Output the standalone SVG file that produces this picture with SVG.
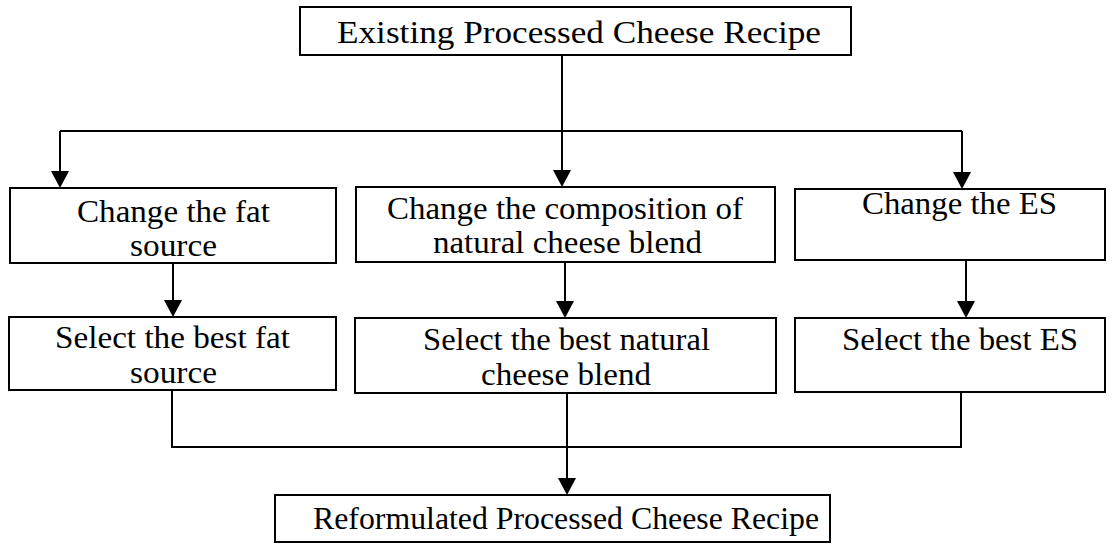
<svg xmlns="http://www.w3.org/2000/svg" width="1113" height="544" viewBox="0 0 1113 544">
<style>
.box{fill:#fff;stroke:#000;stroke-width:2}
.t{font-family:"Liberation Serif","Times New Roman",serif;font-size:31px;fill:#000}
.c{fill:none;stroke:#000;stroke-width:2}
</style>
<rect width="1113" height="544" fill="#fff"/>
<g id="connectors">
<line class="c" x1="562" y1="55" x2="562" y2="131"/>
<line class="c" x1="60" y1="131" x2="962" y2="131"/>
<path class="c" d="M60,131 V171"/>
<path d="M51,171 L69,171 L60,188 Z"/>
<path class="c" d="M562,131 V170"/>
<path d="M553,170 L571,170 L562,187 Z"/>
<path class="c" d="M962,131 V172"/>
<path d="M953,172 L971,172 L962,189 Z"/>
<path class="c" d="M173,263 V300"/>
<path d="M164,300 L182,300 L173,317 Z"/>
<path class="c" d="M565,262 V301"/>
<path d="M556,301 L574,301 L565,318 Z"/>
<path class="c" d="M966,260 V301"/>
<path d="M957,301 L975,301 L966,318 Z"/>
<path class="c" d="M172,390 V447 H961 V392"/>
<path class="c" d="M567,393 V478"/>
<path d="M558,478 L576,478 L567,495 Z"/>
</g>
<g id="n-existing">
<rect class="box" x="300" y="7" width="551" height="48"/>
<text class="t" x="337" y="43" textLength="484" lengthAdjust="spacingAndGlyphs">Existing Processed Cheese Recipe</text>
</g>
<g id="n-change-fat">
<rect class="box" x="10" y="188" width="326" height="75"/>
<text class="t" x="77" y="222" textLength="193" lengthAdjust="spacingAndGlyphs">Change the fat</text>
<text class="t" x="130" y="256" textLength="87" lengthAdjust="spacingAndGlyphs">source</text>
</g>
<g id="n-change-blend">
<rect class="box" x="356" y="187" width="419" height="75"/>
<text class="t" x="387" y="219" textLength="356" lengthAdjust="spacingAndGlyphs">Change the composition of</text>
<text class="t" x="433" y="253" textLength="269" lengthAdjust="spacingAndGlyphs">natural cheese blend</text>
</g>
<g id="n-change-es">
<rect class="box" x="795" y="189" width="310" height="71"/>
<text class="t" x="862" y="214" textLength="195" lengthAdjust="spacingAndGlyphs">Change the ES</text>
</g>
<g id="n-select-fat">
<rect class="box" x="9" y="317" width="327" height="73"/>
<text class="t" x="55" y="348" textLength="235" lengthAdjust="spacingAndGlyphs">Select the best fat</text>
<text class="t" x="130" y="383" textLength="87" lengthAdjust="spacingAndGlyphs">source</text>
</g>
<g id="n-select-blend">
<rect class="box" x="355" y="318" width="421" height="75"/>
<text class="t" x="423" y="350" textLength="287" lengthAdjust="spacingAndGlyphs">Select the best natural</text>
<text class="t" x="481" y="385" textLength="170" lengthAdjust="spacingAndGlyphs">cheese blend</text>
</g>
<g id="n-select-es">
<rect class="box" x="795" y="318" width="310" height="74"/>
<text class="t" x="842" y="350" textLength="236" lengthAdjust="spacingAndGlyphs">Select the best ES</text>
</g>
<g id="n-reformulated">
<rect class="box" x="275" y="495" width="555" height="47"/>
<text class="t" x="313" y="529" textLength="506" lengthAdjust="spacingAndGlyphs">Reformulated Processed Cheese Recipe</text>
</g>
</svg>
